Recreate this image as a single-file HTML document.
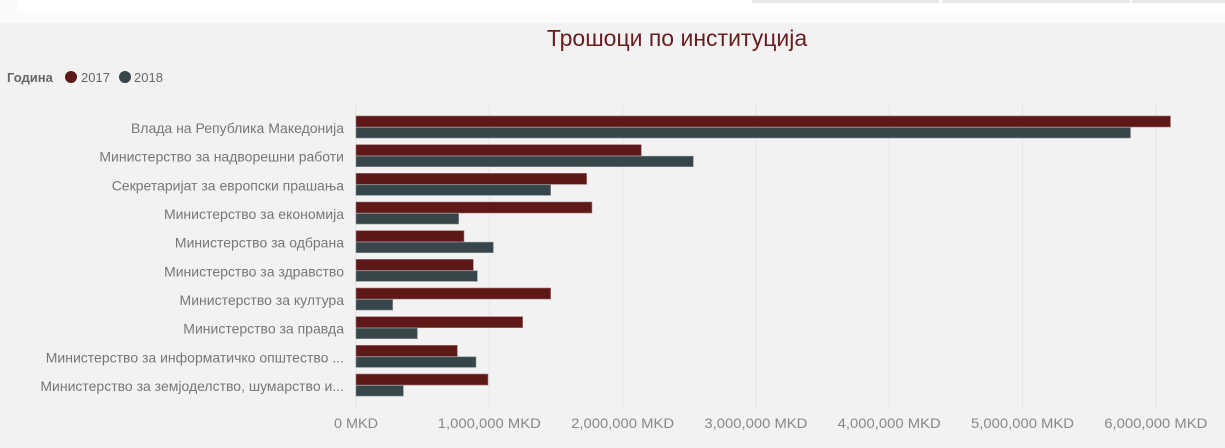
<!DOCTYPE html>
<html><head><meta charset="utf-8"><style>
body{margin:0;width:1225px;height:443px;overflow:hidden;background:#f2f2f2;font-family:"Liberation Sans",sans-serif;}
</style></head><body>
<svg width="1225" height="443" xmlns="http://www.w3.org/2000/svg">
<rect x="0" y="0" width="1225" height="23" fill="#fafafa"/>
<rect x="17" y="0" width="1208" height="13" fill="#ffffff"/>
<rect x="752" y="0" width="187" height="3" fill="#e8e8e8"/>
<rect x="942" y="0" width="188" height="3" fill="#e8e8e8"/>
<rect x="1132" y="0" width="93" height="3" fill="#e8e8e8"/>
<text x="677" y="46" text-anchor="middle" font-size="23" fill="#6b1c1f">Трошоци по институција</text>
<g>
<text x="7" y="82" font-size="13" font-weight="bold" fill="#666">Година</text>
<circle cx="71" cy="77" r="6" fill="#5f1818"/>
<text x="81" y="82" font-size="13" fill="#666">2017</text>
<circle cx="125" cy="77" r="6" fill="#37464a"/>
<text x="134" y="82" font-size="13" fill="#666">2018</text>
</g>
<g id="grid"></g><g id="bars"></g><g id="labels"></g><g id="ticks"></g>
</svg>
<script>
const categories=["Влада на Република Македонија","Министерство за надворешни работи","Секретаријат за европски прашања","Министерство за економија","Министерство за одбрана","Министерство за здравство","Министерство за култура","Министерство за правда","Министерство за информатичко општество ...","Министерство за земјоделство, шумарство и..."];
const values2017=[6110000,2140000,1730000,1770000,810000,880000,1460000,1250000,760000,990000];
const values2018=[5810000,2530000,1460000,770000,1030000,910000,275000,460000,900000,355000];
const tickValues=[0,1000000,2000000,3000000,4000000,5000000,6000000];
const tickLabels=["0 MKD","1,000,000 MKD","2,000,000 MKD","3,000,000 MKD","4,000,000 MKD","5,000,000 MKD","6,000,000 MKD"];
const NS="http://www.w3.org/2000/svg";
const x0=356,pxPer=133.3/1e6;
function xs(v){return x0+v*pxPer;}
function ys(i){return 116+i*28.67;}
function mk(tag,attrs,parent){const e=document.createElementNS(NS,tag);for(const k in attrs)e.setAttribute(k,attrs[k]);document.getElementById(parent).appendChild(e);return e;}
tickValues.forEach((v,i)=>{
  const g=mk('line',{x1:xs(v),x2:xs(v),y1:104,y2:408,stroke:'#e6e6e6','stroke-width':1},'grid');
  
  
  const t=mk('text',{x:xs(v),y:428,'text-anchor':'middle','font-size':14,fill:'#888','textLength':tickLabels[i].length>6?103:44,'lengthAdjust':'spacingAndGlyphs'},'ticks');
  t.textContent=tickLabels[i];
  
  
});
categories.forEach((c,i)=>{
  const y=ys(i);
  const b1=mk('rect',{x:x0,y:y,width:xs(values2017[i])-x0,height:11,fill:'#5f1818',stroke:'#a07070','stroke-width':0.6},'bars');
  
  
  const b2=mk('rect',{x:x0,y:y+11.5,width:xs(values2018[i])-x0,height:10.5,fill:'#37464a',stroke:'#7a8a8d','stroke-width':0.6},'bars');
  
  
  const t=mk('text',{x:344,y:y+17,'text-anchor':'end','font-size':14,fill:'#777'},'labels');
  t.textContent=c;
  
  
});
</script>
</body></html>
